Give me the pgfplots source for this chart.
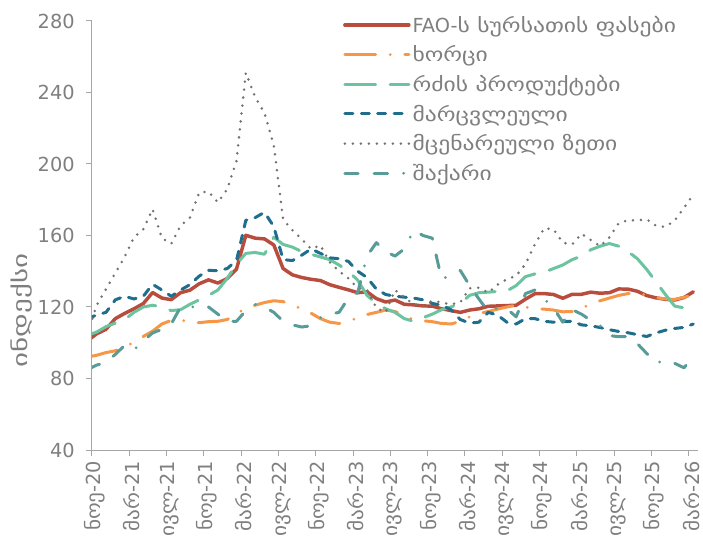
\documentclass[border=0pt]{standalone}
\usepackage{fontspec}
\setmainfont{DejaVu Sans}
\newfontfamily\geo[FakeStretch=1.22]{DejaVu Sans}
\newfontfamily\geoY[FakeStretch=1.45]{DejaVu Sans}
\newfontfamily\geot[FakeStretch=1.1]{DejaVu Sans}
\newcommand{\gt}[1]{{\geot #1}}
\usepackage{pgfplots}
\usepackage{pgfplotstable}
\pgfplotsset{compat=1.18}
\definecolor{cFFPI}{HTML}{B84C3D}
\definecolor{cMeat}{HTML}{F79646}
\definecolor{cDairy}{HTML}{6CC3A0}
\definecolor{cCereal}{HTML}{1F6E8C}
\definecolor{cOil}{HTML}{767171}
\definecolor{cSugar}{HTML}{589C98}
\definecolor{axisgray}{HTML}{A6A6A6}
\definecolor{textgray}{HTML}{7F7F7F}

% x = month index (0 = Nov-2020) + 0.5 ; columns: FAO index, meat, dairy, cereals, vegetable oils, sugar
\pgfplotstableread{
x ffpi meat dairy cereal oil sugar
-0.5 101.0 92.0 104.0 113.5 105.0 85.0
0.5 105.0 93.0 106.0 115.5 121.0 87.5
1.5 107.5 94.5 109.0 117.0 130.0 89.0
2.5 113.5 95.5 111.0 124.0 139.0 93.5
3.5 116.4 97.3 113.0 126.0 148.0 98.5
4.5 119.0 100.5 117.0 124.5 159.0 96.0
5.5 121.9 103.5 120.0 126.0 163.5 101.0
6.5 128.1 106.5 121.0 132.7 174.7 105.5
7.5 125.0 110.5 120.0 129.5 158.5 107.5
8.5 124.1 112.5 118.0 126.0 155.4 110.5
9.5 128.0 112.8 118.5 129.5 165.5 120.0
10.5 129.4 111.5 121.5 132.5 170.0 120.5
11.5 133.0 111.2 124.0 137.3 184.0 119.0
12.5 135.2 111.8 126.5 140.5 184.6 120.0
13.5 133.4 112.0 129.5 140.3 178.5 116.0
14.5 135.9 113.0 136.0 141.5 185.9 112.0
15.5 141.2 116.0 144.0 146.0 201.7 112.0
16.5 160.1 119.5 150.0 168.5 251.0 118.0
17.5 158.5 121.0 150.5 170.0 237.5 121.5
18.5 158.1 122.5 149.5 173.0 228.5 120.0
19.5 154.7 123.5 159.0 165.0 210.5 117.0
20.5 141.5 123.0 155.0 146.5 169.0 112.0
21.5 138.0 121.0 153.5 146.0 163.0 110.0
22.5 136.5 119.0 151.0 149.0 158.0 108.8
23.5 135.5 116.5 149.5 152.5 152.5 109.5
24.5 134.8 113.5 148.0 150.0 154.5 114.0
25.5 132.5 111.5 146.5 147.5 145.0 116.0
26.5 131.0 110.8 143.5 147.0 140.0 117.0
27.5 129.6 112.0 140.0 145.5 136.0 125.0
28.5 128.0 114.0 135.0 140.0 130.5 128.0
29.5 128.5 115.8 126.5 136.5 129.5 148.5
30.5 124.7 117.0 122.0 130.0 119.5 156.0
31.5 122.8 118.3 119.0 127.0 117.0 151.0
32.5 123.9 117.5 117.0 126.0 129.5 148.5
33.5 121.5 115.0 113.5 125.5 125.5 152.5
34.5 121.2 113.0 112.0 125.0 121.5 163.0
35.5 120.6 112.3 114.0 124.0 120.5 160.0
36.5 120.5 111.8 116.0 122.0 123.5 158.5
37.5 119.0 110.8 118.5 121.0 122.5 135.5
38.5 118.0 110.5 120.0 118.5 121.5 138.0
39.5 117.0 112.0 122.0 113.0 122.5 140.5
40.5 118.3 114.5 126.5 111.0 130.5 132.0
41.5 119.0 116.3 128.0 111.5 130.8 124.5
42.5 120.4 117.5 128.3 117.0 128.0 117.5
43.5 120.6 118.8 128.7 115.5 132.5 119.5
44.5 120.8 120.0 129.0 111.5 135.5 119.0
45.5 121.0 121.0 132.0 110.5 137.5 114.5
46.5 124.4 120.0 137.0 113.5 144.0 127.5
47.5 127.4 119.0 138.5 113.5 155.0 129.5
48.5 127.5 118.8 139.5 112.0 164.0 124.5
49.5 127.0 118.3 141.5 111.5 163.5 119.5
50.5 124.9 117.3 143.5 112.0 156.0 111.5
51.5 127.1 117.5 146.5 112.0 155.0 118.5
52.5 127.1 119.0 148.5 110.0 161.0 116.0
53.5 128.3 122.0 152.0 109.5 157.5 112.5
54.5 127.7 123.5 154.0 108.5 154.0 109.5
55.5 128.0 125.0 155.5 107.3 159.0 104.0
56.5 130.1 126.5 154.0 106.3 167.0 103.4
57.5 130.0 127.5 151.0 105.6 168.5 103.5
58.5 128.8 128.0 147.0 104.5 168.5 99.5
59.5 126.4 126.5 141.0 103.5 169.0 94.0
60.5 125.1 125.2 134.0 105.5 165.5 88.5
61.5 124.3 124.5 127.0 107.0 164.8 90.3
62.5 123.9 124.2 120.5 108.0 168.3 88.5
63.5 125.3 125.5 119.5 108.6 175.5 86.0
64.5 128.5 126.5 121.0 110.5 183.0 92.5
}\datatable

\begin{document}
\begin{tikzpicture}
\useasboundingbox (0pt,0pt) rectangle (527.25pt,407.25pt);
\begin{axis}[
  at={(69pt,69.75pt)}, anchor=south west,
  scale only axis, width=454.5pt, height=321.75pt,
  xmin=0, xmax=65, ymin=40, ymax=280,
  ytick={40,80,...,280},
  xtick={0,4,...,64},
  xticklabels={\gt{ნოე}-20,\gt{მარ}-21,\gt{ივლ}-21,\gt{ნოე}-21,\gt{მარ}-22,\gt{ივლ}-22,\gt{ნოე}-22,\gt{მარ}-23,\gt{ივლ}-23,\gt{ნოე}-23,\gt{მარ}-24,\gt{ივლ}-24,\gt{ნოე}-24,\gt{მარ}-25,\gt{ივლ}-25,\gt{ნოე}-25,\gt{მარ}-26},
  axis lines*=left,
  axis line style={draw=axisgray, line width=0.75pt, -},
  tick style={draw=axisgray, line width=0.75pt},
  tick align=outside, major tick length=4.5pt,
  /pgf/number format/assume math mode=true,
  yticklabel style={font=\fontsize{14.5}{17}\selectfont, text=textgray, xshift=-5pt},
  xticklabel style={font=\fontsize{14.5}{17}\selectfont, text=textgray, rotate=90, anchor=east, xshift=0pt, yshift=-2pt},
  every axis y label/.style={at={(axis description cs:-0.117,0.325)}, rotate=90, anchor=center, font=\geoY\fontsize{15}{18}\selectfont, text=textgray},
  ylabel={ინდექსი},
  every axis plot/.append style={line cap=round, line join=round, no markers},
  legend cell align=left,
  legend style={draw=none, fill=none, at={(axis description cs:0.414,1.017)}, anchor=north west,
    font=\fontsize{14.5}{16}\selectfont, text=textgray, row sep=5.6pt, inner sep=0pt,
    nodes={inner sep=1.5pt}},
  legend image code/.code={\draw[#1] (0pt,0pt) -- (48pt,0pt);},
]
\addplot[cFFPI, line width=2.6pt] table[x=x, y=ffpi] {\datatable};
\addlegendentry{FAO-{\geo ს სურსათის ფასები}}
\addplot[cMeat, line width=2.25pt, dash pattern=on 23pt off 11pt on 0pt off 11pt] table[x=x, y=meat] {\datatable};
\addlegendentry{{\geo ხორცი}}
\addplot[cDairy, line width=2.25pt, dash pattern=on 23pt off 11pt] table[x=x, y=dairy] {\datatable};
\addlegendentry{{\geo რძის პროდუქტები}}
\addplot[cCereal, line width=2.25pt, dash pattern=on 6pt off 6.3pt] table[x=x, y=cereal] {\datatable};
\addlegendentry{{\geo მარცვლეული}}
\addplot[cOil, line width=2.1pt, dash pattern=on 0pt off 6pt] table[x=x, y=oil] {\datatable};
\addlegendentry{{\geo მცენარეული ზეთი}}
\addplot[cSugar, line width=2.25pt, dash pattern=on 10pt off 12pt on 10pt off 12pt on 0pt off 12pt] table[x=x, y=sugar] {\datatable};
\addlegendentry{{\geo შაქარი}}
\end{axis}
\end{tikzpicture}
\end{document}
